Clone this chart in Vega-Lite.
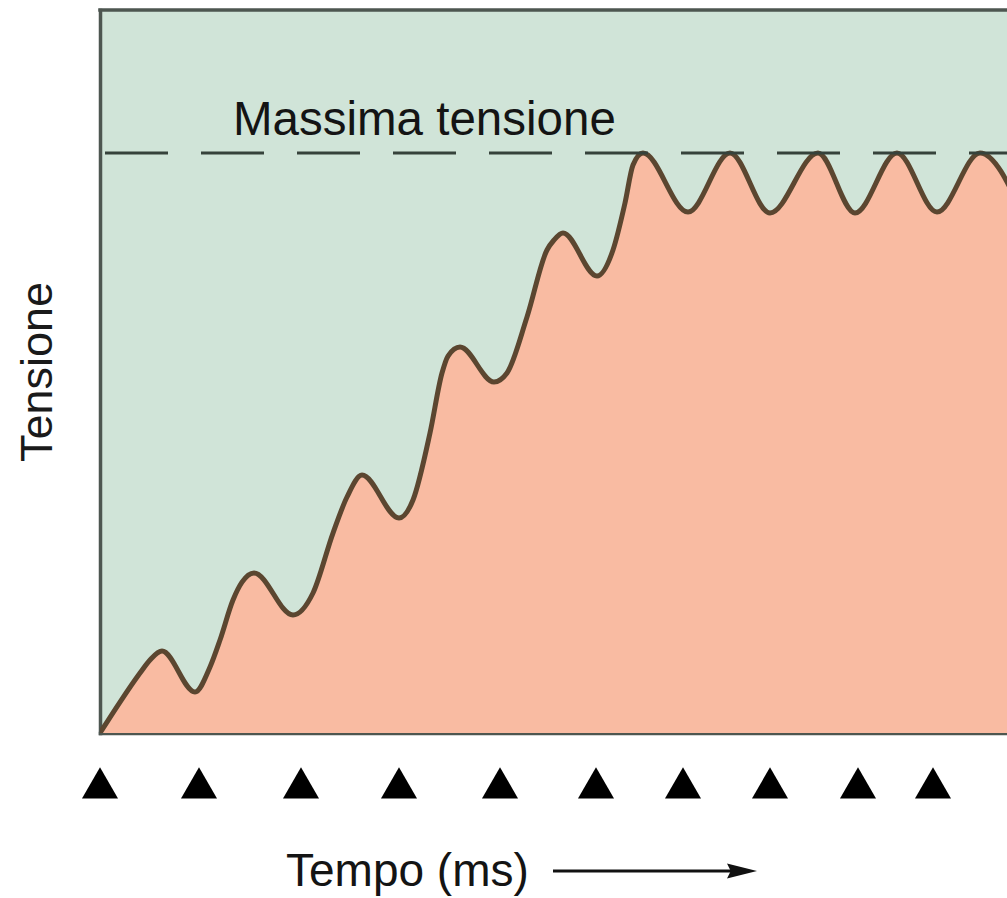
{
  "$schema": "https://vega.github.io/schema/vega-lite/v6.json",
  "width": 907,
  "height": 723,
  "autosize": {"type": "none"},
  "padding": {"left": 100, "top": 10, "right": 0, "bottom": 165},
  "background": "white",
  "config": {
    "view": {"fill": "#d0e4d8", "stroke": null},
    "font": "Liberation Sans",
    "axis": {
      "domainColor": "#4d5650",
      "domainWidth": 3.5,
      "domainCap": "square",
      "ticks": false,
      "labels": false,
      "grid": false,
      "titleFont": "Liberation Sans",
      "titleFontSize": 45,
      "titleFontWeight": "normal",
      "titleColor": "#1a1a1a",
      "titlePadding": 40
    }
  },
  "datasets": {
    "curve": [
      {"t": 0, "v": 0}, {"t": 2.0, "v": 5.34}, {"t": 4.0, "v": 10.34}, {"t": 5.0, "v": 12.6}, {"t": 6.2, "v": 14.14},
      {"t": 9.5, "v": 7.07}, {"t": 11.0, "v": 11.38}, {"t": 12.0, "v": 16.03}, {"t": 13.3, "v": 22.93}, {"t": 14.2, "v": 26.0}, {"t": 15.4, "v": 27.59},
      {"t": 19.3, "v": 20.34}, {"t": 21.3, "v": 24.14}, {"t": 23.3, "v": 34.48}, {"t": 24.7, "v": 40.69}, {"t": 26.2, "v": 44.48},
      {"t": 29.9, "v": 37.07}, {"t": 31.3, "v": 40.17}, {"t": 33.0, "v": 51.72}, {"t": 34.2, "v": 62.07}, {"t": 34.8, "v": 65.0}, {"t": 36.0, "v": 66.55},
      {"t": 39.4, "v": 60.52}, {"t": 40.7, "v": 62.07}, {"t": 42.7, "v": 71.72}, {"t": 44.7, "v": 83.28}, {"t": 45.4, "v": 85.0}, {"t": 46.3, "v": 86.21},
      {"t": 49.7, "v": 78.79}, {"t": 51.3, "v": 83.28}, {"t": 52.5, "v": 91.38}, {"t": 53.3, "v": 97.93}, {"t": 54.3, "v": 100},
      {"t": 58.8, "v": 89.83}, {"t": 63.0, "v": 100}, {"t": 67.0, "v": 89.66}, {"t": 71.8, "v": 100}, {"t": 75.5, "v": 89.66},
      {"t": 79.7, "v": 100}, {"t": 83.7, "v": 89.83}, {"t": 88.0, "v": 100}, {"t": 92.2, "v": 89.83}
    ],
    "stimuli": [
      {"t": 0}, {"t": 9.9}, {"t": 20.1}, {"t": 29.9}, {"t": 40.0}, {"t": 49.6}, {"t": 58.3}, {"t": 67.0}, {"t": 75.8}, {"t": 83.3}
    ],
    "maxline": [{"t0": 0, "t1": 90.7, "v": 100}],
    "topframe": [{"t0": 0, "t1": 90.7, "v": 124.66}],
    "maxlabel": [{"t": 13.3, "v": 103.1, "label": "Massima tensione"}],
    "xlabel": [{"t": 18.6, "label": "Tempo (ms)"}],
    "arrow": [{"t0": 45.3, "t1": 64.0}],
    "arrowhead": [{"t": 64.2}]
  },
  "layer": [
    {
      "data": {"name": "curve"},
      "mark": {"type": "area", "interpolate": "monotone", "color": "#f9bba2", "opacity": 1, "clip": true},
      "encoding": {
        "x": {"field": "t", "type": "quantitative", "title": null, "scale": {"domain": [0, 90.7], "nice": false, "zero": false}},
        "y": {"field": "v", "type": "quantitative", "title": "Tensione", "scale": {"domain": [0, 124.66], "nice": false}}
      }
    },
    {
      "data": {"name": "curve"},
      "mark": {"type": "line", "interpolate": "monotone", "color": "#5b4630", "strokeWidth": 5, "clip": true},
      "encoding": {
        "x": {"field": "t", "type": "quantitative", "title": null},
        "y": {"field": "v", "type": "quantitative", "title": "Tensione"}
      }
    },
    {
      "data": {"name": "maxline"},
      "mark": {"type": "rule", "color": "#36423b", "strokeWidth": 3, "strokeDash": [63, 33], "strokeDashOffset": -5},
      "encoding": {
        "x": {"field": "t0", "type": "quantitative", "title": null},
        "x2": {"field": "t1"},
        "y": {"field": "v", "type": "quantitative", "title": "Tensione"}
      }
    },
    {
      "data": {"name": "topframe"},
      "mark": {"type": "rule", "color": "#4d5650", "strokeWidth": 3.5, "strokeCap": "square"},
      "encoding": {
        "x": {"field": "t0", "type": "quantitative", "title": null},
        "x2": {"field": "t1"},
        "y": {"field": "v", "type": "quantitative", "title": "Tensione"}
      }
    },
    {
      "data": {"name": "maxlabel"},
      "mark": {"type": "text", "align": "left", "baseline": "alphabetic", "fontSize": 47.5, "font": "Liberation Sans", "color": "#141414"},
      "encoding": {
        "x": {"field": "t", "type": "quantitative", "title": null},
        "y": {"field": "v", "type": "quantitative", "title": "Tensione"},
        "text": {"field": "label"}
      }
    },
    {
      "data": {"name": "stimuli"},
      "mark": {"type": "point", "shape": "triangle-up", "filled": true, "color": "#000000", "opacity": 1, "size": 1300, "strokeWidth": 0},
      "encoding": {
        "x": {"field": "t", "type": "quantitative", "title": null},
        "y": {"datum": -8.6, "type": "quantitative"}
      }
    },
    {
      "data": {"name": "xlabel"},
      "mark": {"type": "text", "align": "left", "baseline": "alphabetic", "fontSize": 46, "font": "Liberation Sans", "color": "#141414"},
      "encoding": {
        "x": {"field": "t", "type": "quantitative", "title": null},
        "y": {"datum": -26.3, "type": "quantitative"},
        "text": {"field": "label"}
      }
    },
    {
      "data": {"name": "arrow"},
      "mark": {"type": "rule", "color": "#111111", "strokeWidth": 3},
      "encoding": {
        "x": {"field": "t0", "type": "quantitative", "title": null},
        "x2": {"field": "t1"},
        "y": {"datum": -23.79, "type": "quantitative"}
      }
    },
    {
      "data": {"name": "arrowhead"},
      "mark": {"type": "point", "shape": "M1,0L-1,-0.5L-0.75,0L-1,0.5Z", "filled": true, "color": "#111111", "opacity": 1, "size": 900, "strokeWidth": 0},
      "encoding": {
        "x": {"field": "t", "type": "quantitative", "title": null},
        "y": {"datum": -23.79, "type": "quantitative"}
      }
    }
  ]
}
